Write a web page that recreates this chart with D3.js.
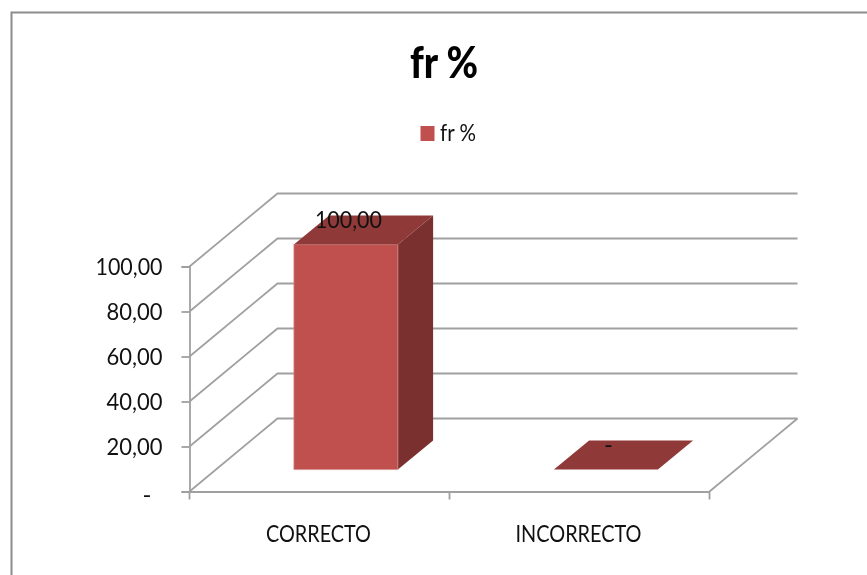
<!DOCTYPE html>
<html>
<head>
<meta charset="utf-8">
<script src="https://cdn.jsdelivr.net/npm/d3@7/dist/d3.min.js"></script>
<style>
html,body{margin:0;padding:0;background:#fff;overflow:hidden}
svg{display:block;filter:blur(0.5px)}
text{font-family:Lato,"Open Sans",sans-serif;fill:#111}
</style>
</head>
<body>
<svg id="chart" width="867" height="575"></svg>
<script>
const title = "fr %";
const seriesName = "fr %";
const categories = ["CORRECTO", "INCORRECTO"];
const values = [100, 0];
const tickValues = [0, 20, 40, 60, 80, 100];
const valueLabels = ["-", "20,00", "40,00", "60,00", "80,00", "100,00"];
const colors = {front:"#C0504D", top:"#8F3A38", side:"#7A302E", grid:"#A0A0A0", frame:"#8C8C8C", edge:"#D58C8A"};

const svg = d3.select("#chart");
const x = d3.scaleBand().domain(categories).range([189.5, 709.5]);
const y = d3.scaleLinear().domain([0, 100]).range([491.5, 266.5]);
const depthX = d3.scaleLinear().domain([0, 1]).range([0, 88]);
const depthY = d3.scaleLinear().domain([0, 1]).range([0, -73]);
const P = (px, v, z) => [px + depthX(z), y(v) + depthY(z)];
const line = d3.line();
const fmt = v => valueLabels[tickValues.indexOf(v)];
const squeeze = s => s.length >= 6 ? 67 : s.length === 5 ? 56 : null;

svg.append("path").attr("d", line([[11.5, 575], [11.5, 12.5], [867, 12.5]]))
  .attr("fill", "none").attr("stroke", colors.frame).attr("stroke-width", 2);

const x0 = x.range()[0], x1 = x.range()[1];
svg.append("g").selectAll("path").data(tickValues).join("path")
  .attr("d", v => line([P(x0, v, 0), P(x0, v, 1), P(x1, v, 1)]))
  .attr("fill", "none").attr("stroke", colors.grid).attr("stroke-width", 1.8);

svg.append("path").attr("d", line([P(x1, 0, 0), P(x1, 0, 1)]))
  .attr("fill", "none").attr("stroke", colors.grid).attr("stroke-width", 1.8);

const yAxis = d3.axisLeft(y).tickValues(tickValues).tickFormat(fmt).tickSize(8).tickPadding(19);
const gy = svg.append("g").attr("transform", `translate(${x0},0)`).call(yAxis);
gy.selectAll("path,line").attr("stroke", colors.grid).attr("stroke-width", 1.8);
gy.selectAll("text").attr("font-size", 24).attr("fill", "#111").style("font-family", "Lato")
  .attr("lengthAdjust", "spacingAndGlyphs")
  .each(function(d) { const n = squeeze(fmt(d)); if (n) d3.select(this).attr("textLength", n); })
  .attr("dx", d => d === 0 ? -11 : 0)
  .attr("dy", d => d === 0 ? "0.45em" : "0.32em");

const xAxis = d3.axisBottom(x).tickSize(0).tickPadding(33);
const gx = svg.append("g").attr("transform", `translate(0,${y(0)})`).call(xAxis);
gx.select("path").attr("stroke", colors.grid).attr("stroke-width", 1.8);
gx.selectAll("text").attr("font-size", 24).attr("dx", -1).attr("fill", "#111")
  .style("font-family", "Lato").attr("lengthAdjust", "spacingAndGlyphs")
  .attr("textLength", (d, i) => [105, 126][i]);
const boundaries = [x0, x(categories[1]), x1];
gx.selectAll("line.b").data(boundaries).join("line").attr("class", "b")
  .attr("x1", d => d).attr("x2", d => d).attr("y1", 0).attr("y2", 8)
  .attr("stroke", colors.grid).attr("stroke-width", 1.8);

const zFront = 0.3, zBack = 0.7, barInset = 0.3;
const bars = svg.append("g").selectAll("g").data(categories.map((c, i) => ({c, v: values[i]}))).join("g");
const bl = d => x(d.c) + x.bandwidth() * barInset;
const br = d => x(d.c) + x.bandwidth() * (1 - barInset);
bars.filter(d => d.v > 0).append("path").attr("fill", colors.side)
  .attr("d", d => line([P(br(d), d.v, zFront), P(br(d), d.v, zBack), P(br(d), 0, zBack), P(br(d), 0, zFront)]) + "Z");
bars.filter(d => d.v > 0).append("path").attr("fill", colors.front)
  .attr("stroke", colors.edge).attr("stroke-width", 0.7)
  .attr("d", d => line([P(bl(d), d.v, zFront), P(br(d), d.v, zFront), P(br(d), 0, zFront), P(bl(d), 0, zFront)]) + "Z");
bars.append("path").attr("fill", colors.top)
  .attr("d", d => line([P(bl(d), d.v, zFront), P(bl(d), d.v, zBack), P(br(d), d.v, zBack), P(br(d), d.v, zFront)]) + "Z");

bars.append("text")
  .attr("x", d => (bl(d) + br(d)) / 2 + depthX(zFront) + 2.5)
  .attr("y", d => P(0, d.v, zFront)[1] - 25)
  .attr("dy", "0.35em").attr("text-anchor", "middle").attr("font-size", 24)
  .attr("lengthAdjust", "spacingAndGlyphs")
  .each(function(d) { const n = squeeze(fmt(d.v)); if (n) d3.select(this).attr("textLength", n); })
  .text(d => fmt(d.v));

svg.append("text").attr("x", 444).attr("y", 78).attr("text-anchor", "middle")
  .attr("font-size", 44).attr("font-weight", 900).attr("fill", "#000")
  .style("fill", "#000").attr("lengthAdjust", "spacingAndGlyphs").attr("textLength", 68).text(title);

svg.append("rect").attr("x", 420.5).attr("y", 126).attr("width", 14).attr("height", 15)
  .attr("fill", colors.front);
svg.append("text").attr("x", 440).attr("y", 141).attr("font-size", 24)
  .attr("lengthAdjust", "spacingAndGlyphs").attr("textLength", 36).text(seriesName);
</script>
</body>
</html>
